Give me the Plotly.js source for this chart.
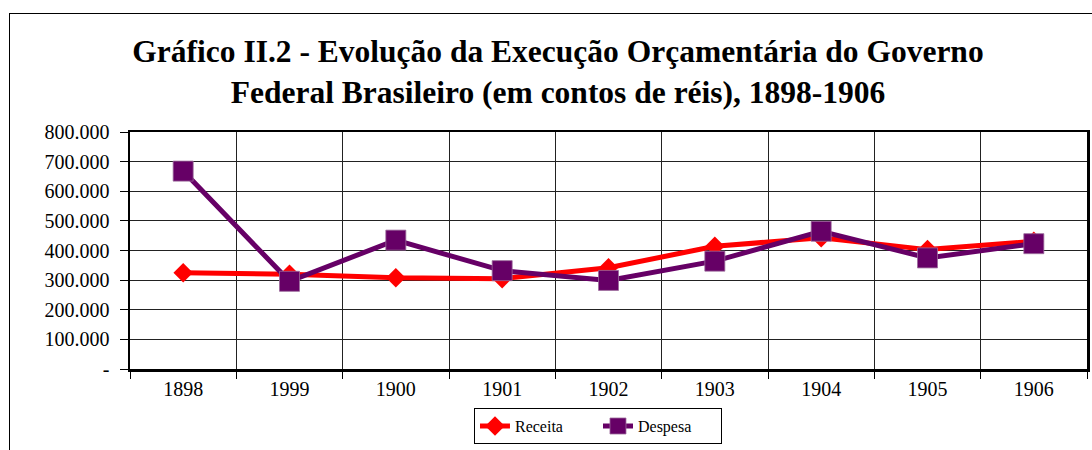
<!DOCTYPE html>
<html>
<head>
<meta charset="utf-8">
<script src="https://cdn.plot.ly/plotly-3.0.1.min.js"></script>
<style>
  html, body { margin: 0; padding: 0; background: #fff; overflow: hidden; }
  #wrap { position: relative; width: 1092px; height: 450px; }
  #frame { position: absolute; left: 9px; top: 13px; width: 2000px; height: 2000px;
           border-left: 1.3px solid #000; border-top: 1.3px solid #000; pointer-events: none; }
  #chart { position: absolute; left: 0; top: 0; width: 1092px; height: 450px; }
</style>
</head>
<body>
<div id="wrap">
  <div id="chart"></div>
  <div id="frame"></div>
</div>
<script>
const categories = ["1898", "1999", "1900", "1901", "1902", "1903", "1904", "1905", "1906"];
const receita = [325000, 320000, 308000, 305000, 342000, 414000, 443000, 403000, 431000];
const despesa = [668000, 296000, 435000, 332000, 299000, 364000, 465000, 375000, 423000];
const yTickVals = [0, 100000, 200000, 300000, 400000, 500000, 600000, 700000, 800000];
const yTickText = ["-", "100.000", "200.000", "300.000", "400.000", "500.000", "600.000", "700.000", "800.000"];
const titleText = "<b>Gráfico II.2 - Evolução da Execução Orçamentária do Governo<br>Federal Brasileiro (em contos de réis), 1898-1906</b>";

const serif = "Liberation Serif, Times New Roman, serif";

const traces = [
  {
    x: categories, y: receita, name: "Receita", type: "scatter", mode: "lines+markers",
    line: { color: "#ff0000", width: 5 },
    marker: { symbol: "diamond", size: 15, color: "#ff0000" }
  },
  {
    x: categories, y: despesa, name: "Despesa", type: "scatter", mode: "lines+markers",
    line: { color: "#660066", width: 5 },
    marker: { symbol: "square", size: 20, color: "#660066", line: { color: "#9a6a9a", width: 0.8 } }
  }
];

const layout = {
  width: 1092, height: 450,
  margin: { l: 130, r: 5, t: 132, b: 81, autoexpand: false },
  paper_bgcolor: "rgba(0,0,0,0)",
  plot_bgcolor: "#fff",
  font: { family: serif, color: "#000", size: 20 },
  title: {
    text: titleText,
    font: { family: serif, size: 31.5, color: "#000" },
    x: 0.511, xanchor: "center",
    yref: "container", y: 0.862, yanchor: "top"
  },
  xaxis: {
    type: "category",
    range: [-0.5, 8.5],
    tickson: "boundaries",
    ticks: "outside", ticklen: 7, tickcolor: "#000", tickwidth: 1,
    showgrid: true, gridcolor: "#222", gridwidth: 1,
    showline: true, linecolor: "#000", linewidth: 2.5, mirror: true,
    tickfont: { family: serif, size: 20, color: "#000" },
    automargin: false,
    fixedrange: true
  },
  yaxis: {
    range: [0, 800000],
    tickmode: "array", tickvals: yTickVals, ticktext: yTickText,
    ticks: "outside", ticklen: 8, tickcolor: "#000", tickwidth: 1,
    showgrid: true, gridcolor: "#222", gridwidth: 1,
    zeroline: false,
    showline: true, linecolor: "#000", linewidth: 2.5, mirror: true,
    tickfont: { family: serif, size: 20, color: "#000" },
    ticklabelstandoff: 6,
    automargin: false,
    fixedrange: true
  },
  showlegend: true,
  legend: {
    orientation: "h",
    x: 0.489, xanchor: "center",
    y: -0.165, yanchor: "top",
    bordercolor: "#000", borderwidth: 1,
    bgcolor: "#fff",
    font: { family: serif, size: 16, color: "#000" },
    entrywidth: 78,
    tracegroupgap: 0
  }
};

Plotly.newPlot("chart", traces, layout, { displayModeBar: false, staticPlot: true });
</script>
</body>
</html>
